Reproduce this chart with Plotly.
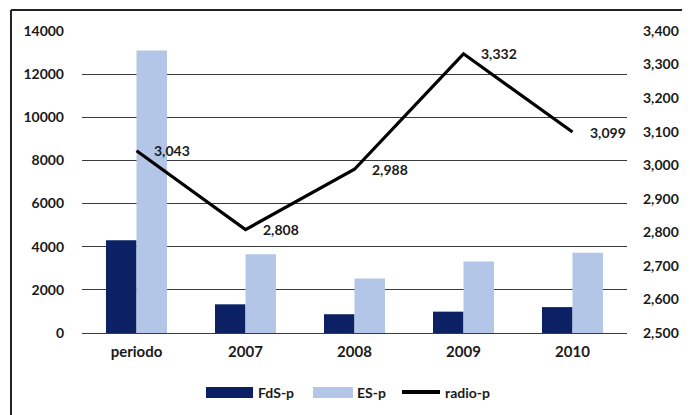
import plotly.graph_objects as go

categories = ["periodo", "2007", "2008", "2009", "2010"]
fds_p = [4300, 1330, 870, 990, 1200]
es_p = [13100, 3650, 2530, 3320, 3720]
radio_p = [3043, 2808, 2988, 3332, 3099]
radio_labels = ["3,043", "2,808", "2,988", "3,332", "3,099"]
series_names = ["FdS-p", "ES-p", "radio-p"]

FONT = "Lato"
TXT = "#1a1a1a"
C_FDS = "#0C2163"
C_ES = "#B4C6E7"

fig = go.Figure()
fig.add_trace(go.Bar(x=categories, y=fds_p, name=series_names[0], marker_color=C_FDS,
                     marker_line_width=0, showlegend=False))
fig.add_trace(go.Bar(x=categories, y=es_p, name=series_names[1], marker_color=C_ES,
                     marker_line_width=0, showlegend=False))
fig.add_trace(go.Scatter(x=categories, y=radio_p, name=series_names[2], yaxis="y2",
                         mode="lines", line=dict(color="black", width=3.2),
                         showlegend=False))

for i, (v, t) in enumerate(zip(radio_p, radio_labels)):
    fig.add_annotation(x=i, xref="x", y=v, yref="y2", text="<b>%s</b>" % t,
                       showarrow=False, xanchor="left", yanchor="middle", xshift=15,
                       font=dict(family=FONT, size=14, color=TXT))

fig.update_layout(
    width=682, height=407,
    margin=dict(l=74, r=63, t=23, b=82),
    paper_bgcolor="white", plot_bgcolor="white",
    barmode="group", bargap=0.44, bargroupgap=0,
    font=dict(family=FONT, size=14, color=TXT),
    xaxis=dict(type="category", range=[-0.5, len(categories) - 0.5],
               showgrid=False, showline=False, ticks="",
               tickfont=dict(family=FONT, size=15, color=TXT, weight="bold"),
               ticklabelstandoff=8),
    yaxis=dict(range=[0, 14000], dtick=2000, tickformat="d", showgrid=True,
               gridcolor="#3a3a3a", gridwidth=1.3, zeroline=True,
               zerolinecolor="#3a3a3a", zerolinewidth=1.3, showline=False,
               tickfont=dict(family=FONT, size=14, color=TXT, weight="bold"),
               ticklabelstandoff=17),
    yaxis2=dict(range=[2500, 3400], dtick=100, tickformat=",", overlaying="y",
                side="right", showgrid=False, zeroline=False, showline=False,
                tickfont=dict(family=FONT, size=14, color=TXT, weight="bold"),
                ticklabelstandoff=15),
)

# chart frame (top and left edges visible in reference)
fig.add_shape(type="line", xref="paper", yref="paper", x0=-0.1303, x1=1.12,
              y0=1.0695, y1=1.0695, line=dict(color="#222", width=2))
fig.add_shape(type="line", xref="paper", yref="paper", x0=-0.1303, x1=-0.1303,
              y0=1.0695, y1=-0.30, line=dict(color="#222", width=2))

# legend with wide swatches, as in the reference
ly = -0.1954
fig.add_shape(type="rect", xref="paper", yref="paper", x0=0.2275, x1=0.3138,
              y0=-0.2152, y1=-0.1788, fillcolor=C_FDS, line_width=0)
fig.add_shape(type="rect", xref="paper", yref="paper", x0=0.4239, x1=0.4972,
              y0=-0.2152, y1=-0.1788, fillcolor=C_ES, line_width=0)
fig.add_shape(type="line", xref="paper", yref="paper", x0=0.5872, x1=0.6569,
              y0=ly, y1=ly, line=dict(color="black", width=4))
for xp, name in zip([0.3193, 0.5009, 0.6624], series_names):
    fig.add_annotation(x=xp, y=ly, xref="paper", yref="paper", text="<b>%s</b>" % name,
                       showarrow=False, xanchor="left", yanchor="middle",
                       font=dict(family=FONT, size=14, color=TXT))

fig.write_html("out.html")
